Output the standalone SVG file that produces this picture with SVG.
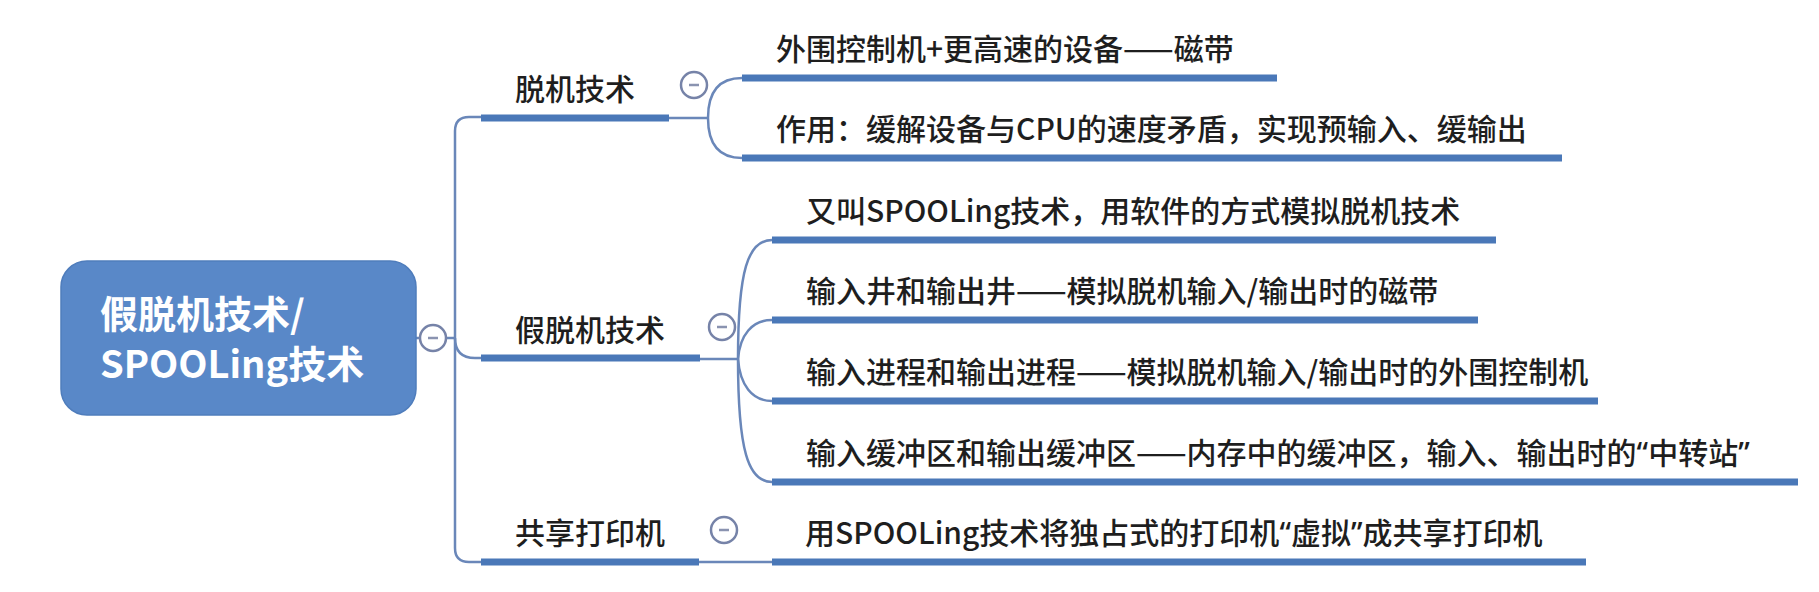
<svg xmlns="http://www.w3.org/2000/svg" width="1819" height="592" viewBox="0 0 1819 592">
<style>
.bg{fill:#ffffff}
.conn{fill:none;stroke:#6a87b9;stroke-width:2.5}
.ul{stroke:#4a78b8;stroke-width:7}
.txt{font-family:"Noto Sans CJK SC","Noto Sans",sans-serif;font-size:30px;font-weight:500;fill:#1e1e1e}
.q{font-family:"Noto Sans","DejaVu Sans",sans-serif}
.root-txt{font-family:"Noto Sans CJK SC","Noto Sans",sans-serif;font-size:38px;font-weight:bold;fill:#ffffff}
.tog circle{fill:#ffffff;stroke:#7683a8;stroke-width:2.5}
.tog line{stroke:#8a93b0;stroke-width:2.5}
</style>
<rect class="bg" x="0" y="0" width="1819" height="592"/>
<g id="connectors">
  <line class="conn" x1="416" y1="338" x2="455" y2="338"/>
  <path class="conn" d="M482,117 H469 Q455,117 455,131 V548 Q455,562 469,562 H482"/>
  <path class="conn" d="M455,338 Q455,358 475,358 H482"/>
  <line class="conn" x1="669" y1="118" x2="708" y2="118"/>
  <path class="conn" d="M708,118 C708,90 720,78 742,78"/>
  <path class="conn" d="M708,118 C708,146 720,158 742,158"/>
  <line class="conn" x1="700" y1="359" x2="738" y2="359"/>
  <path class="conn" d="M738,359 C738,270 748,240 772,240"/>
  <path class="conn" d="M738,359 C740,335 752,320 772,320"/>
  <path class="conn" d="M738,359 C740,385 752,401 772,401"/>
  <path class="conn" d="M738,359 C738,450 748,482 772,482"/>
  <line class="conn" x1="699" y1="562" x2="772" y2="562"/>
</g>
<g id="root">
  <rect x="61" y="261" width="355" height="154" rx="26" fill="#5988c8" stroke="#4f7dbc" stroke-width="1.5"/>
  <text class="root-txt" x="100" y="328">假脱机技术/</text>
  <text class="root-txt" x="100" y="378">SPOOLing技术</text>
  <g class="tog"><circle cx="433" cy="338" r="13"/><line x1="428" y1="338" x2="438" y2="338"/></g>
</g>
<g id="branch-offline">
  <line class="ul" x1="481" y1="118" x2="669" y2="118"/>
  <text class="txt" x="515" y="100">脱机技术</text>
  <g class="tog"><circle cx="694" cy="85" r="13"/><line x1="689" y1="85" x2="699" y2="85"/></g>
</g>
<g id="offline-c1">
  <line class="ul" x1="742" y1="78" x2="1277" y2="78"/>
  <text class="txt" x="776" y="60">外围控制机+更高速的设备——磁带</text>
</g>
<g id="offline-c2">
  <line class="ul" x1="742" y1="158" x2="1562" y2="158"/>
  <text class="txt" x="776" y="140">作用：缓解设备与CPU的速度矛盾，实现预输入、缓输出</text>
</g>
<g id="branch-spooling">
  <line class="ul" x1="481" y1="358" x2="700" y2="358"/>
  <text class="txt" x="515" y="341">假脱机技术</text>
  <g class="tog"><circle cx="722" cy="327" r="13"/><line x1="717" y1="327" x2="727" y2="327"/></g>
</g>
<g id="spooling-c1">
  <line class="ul" x1="772" y1="240" x2="1496" y2="240"/>
  <text class="txt" x="806" y="222">又叫SPOOLing技术，用软件的方式模拟脱机技术</text>
</g>
<g id="spooling-c2">
  <line class="ul" x1="772" y1="320" x2="1478" y2="320"/>
  <text class="txt" x="806" y="302">输入井和输出井——模拟脱机输入/输出时的磁带</text>
</g>
<g id="spooling-c3">
  <line class="ul" x1="772" y1="401" x2="1598" y2="401"/>
  <text class="txt" x="806" y="383">输入进程和输出进程——模拟脱机输入/输出时的外围控制机</text>
</g>
<g id="spooling-c4">
  <line class="ul" x1="772" y1="482" x2="1798" y2="482"/>
  <text class="txt" x="806" y="464">输入缓冲区和输出缓冲区——内存中的缓冲区，输入、输出时的<tspan class="q">“</tspan>中转站<tspan class="q">”</tspan></text>
</g>
<g id="branch-printer">
  <line class="ul" x1="481" y1="562" x2="699" y2="562"/>
  <text class="txt" x="515" y="544">共享打印机</text>
  <g class="tog"><circle cx="724" cy="530" r="13"/><line x1="719" y1="530" x2="729" y2="530"/></g>
</g>
<g id="printer-c1">
  <line class="ul" x1="772" y1="562" x2="1586" y2="562"/>
  <text class="txt" x="805" y="544">用SPOOLing技术将独占式的打印机<tspan class="q">“</tspan>虚拟<tspan class="q">”</tspan>成共享打印机</text>
</g>
</svg>
